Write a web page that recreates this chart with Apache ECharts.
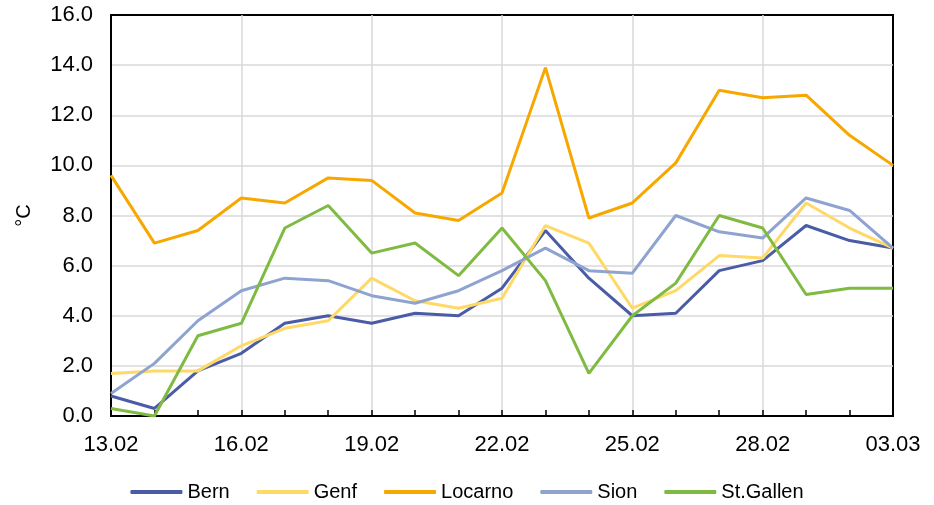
<!DOCTYPE html>
<html>
<head>
<meta charset="utf-8">
<script src="https://cdn.jsdelivr.net/npm/echarts@6/dist/echarts.min.js"></script>
<style>
  html, body { margin: 0; padding: 0; background: #fff; }
  #main { width: 934px; height: 505px; }
</style>
</head>
<body>
<div id="main"></div>
<script>
// Tagesmitteltemperaturen
var days = ['13.02', '14.02', '15.02', '16.02', '17.02', '18.02', '19.02', '20.02', '21.02', '22.02',
  '23.02', '24.02', '25.02', '26.02', '27.02', '28.02', '01.03', '02.03', '03.03'];

var bern = [0.8, 0.3, 1.8, 2.5, 3.7, 4.0, 3.7, 4.1, 4.0, 5.1, 7.4, 5.5, 4.0, 4.1, 5.8, 6.2, 7.6, 7.0, 6.7];
var genf = [1.7, 1.8, 1.8, 2.8, 3.5, 3.8, 5.5, 4.6, 4.3, 4.7, 7.6, 6.9, 4.3, 5.0, 6.4, 6.3, 8.5, 7.5, 6.7];
var locarno = [9.6, 6.9, 7.4, 8.7, 8.5, 9.5, 9.4, 8.1, 7.8, 8.9, 13.9, 7.9, 8.5, 10.1, 13.0, 12.7, 12.8, 11.2, 10.0];
var sion = [0.9, 2.1, 3.8, 5.0, 5.5, 5.4, 4.8, 4.5, 5.0, 5.8, 6.7, 5.8, 5.7, 8.0, 7.35, 7.1, 8.7, 8.2, 6.7];
var stgallen = [0.3, 0.0, 3.2, 3.7, 7.5, 8.4, 6.5, 6.9, 5.6, 7.5, 5.4, 1.7, 4.0, 5.3, 8.0, 7.5, 4.85, 5.1, 5.1];

var chart = echarts.init(document.getElementById('main'));

function serie(name, data, color) {
  return {
    name: name,
    type: 'line',
    data: data,
    symbol: 'none',
    smooth: false,
    lineStyle: { width: 3, color: color },
    itemStyle: { color: color }
  };
}

var option = {
  animation: false,
  textStyle: { fontFamily: 'Liberation Sans, Arial, sans-serif' },
  grid: {
    left: 111, right: 41, top: 15, bottom: 89,
    show: true, borderColor: '#000', borderWidth: 2
  },
  legend: {
    bottom: -2,
    left: 'center',
    itemWidth: 52,
    itemHeight: 4,
    itemGap: 27,
    icon: 'roundRect',
    textStyle: { fontSize: 20, color: '#000' },
    data: ['Bern', 'Genf', 'Locarno', 'Sion', 'St.Gallen']
  },
  xAxis: {
    type: 'category',
    data: days,
    boundaryGap: false,
    axisLine: { lineStyle: { color: '#000', width: 2 } },
    axisTick: { show: true, inside: true, length: 6, interval: 0, lineStyle: { color: '#000', width: 1.5 } },
    axisLabel: { interval: 2, fontSize: 22, color: '#000', margin: 18 },
    splitLine: { show: true, interval: 2, showMinLine: false, showMaxLine: false, lineStyle: { color: '#d9d9d9', width: 1.5 } }
  },
  yAxis: {
    type: 'value',
    min: 0, max: 16, interval: 2,
    name: '°C',
    nameLocation: 'middle',
    nameGap: 77,
    nameRotate: 90,
    nameTextStyle: { fontSize: 20, color: '#000' },
    axisLine: { show: true, lineStyle: { color: '#000', width: 2 } },
    axisTick: { show: false },
    axisLabel: { fontSize: 22, color: '#000', margin: 18, formatter: function (v) { return v.toFixed(1); } },
    splitLine: { showMinLine: false, showMaxLine: false, lineStyle: { color: '#d9d9d9', width: 1.5 } }
  },
  series: [
    serie('Bern', bern, '#4a5ca6'),
    serie('Genf', genf, '#ffd966'),
    serie('Locarno', locarno, '#f7a800'),
    serie('Sion', sion, '#8fa3d1'),
    serie('St.Gallen', stgallen, '#7fbb42')
  ]
};

chart.setOption(option);
</script>
</body>
</html>
